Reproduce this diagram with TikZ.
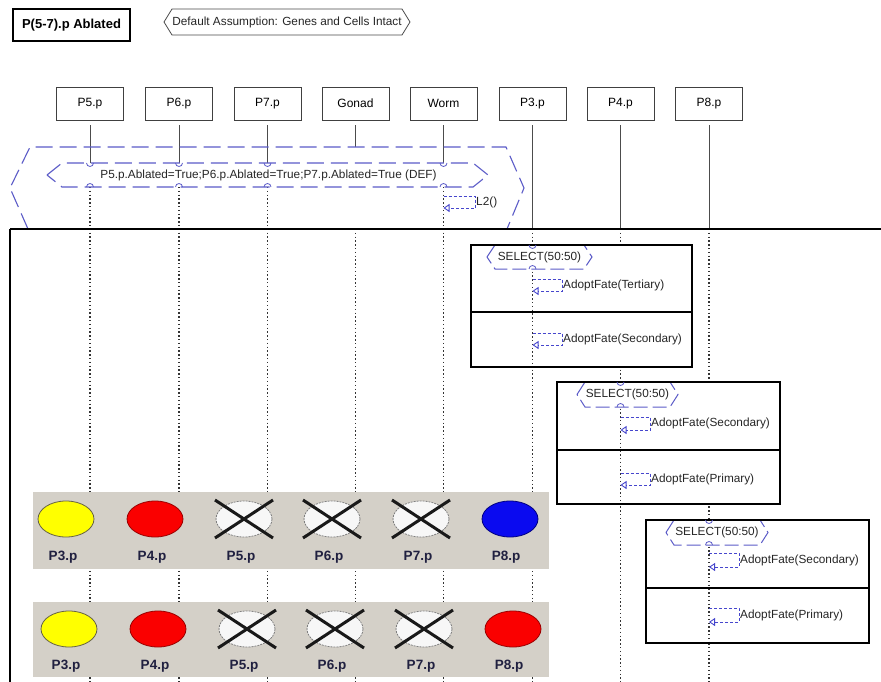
\documentclass[tikz,border=0pt]{standalone}
\usepackage{fontspec}
\setmainfont{Liberation Sans}
\usetikzlibrary{arrows.meta,shapes.geometric}

\definecolor{hexblue}{RGB}{92,92,200}
\definecolor{msgblue}{RGB}{70,70,205}
\definecolor{bandgray}{RGB}{212,208,200}
\definecolor{labnavy}{RGB}{32,32,64}
\definecolor{cellyellow}{RGB}{255,255,0}
\definecolor{cellred}{RGB}{250,0,0}
\definecolor{cellblue}{RGB}{10,10,240}

% hexagon outline: left x, right x, top y, bottom y, pointer depth
\newcommand{\hexagonat}[5]{(#1,{(#3+#4)/2}) -- ({#1+#5},#3) -- ({#2-#5},#3) -- (#2,{(#3+#4)/2}) -- ({#2-#5},#4) -- ({#1+#5},#4) -- cycle}

\begin{document}
\begin{tikzpicture}[x=1pt,y=-1pt,
  txt/.style={font=\fontsize{11.8}{13}\selectfont, inner sep=0pt, text=black!85},
  head/.style={draw=black!75, line width=0.9pt, minimum width=67pt, minimum height=33pt,
    inner sep=0pt, font=\fontsize{12}{13}\selectfont},
  solidlife/.style={draw=black!70, line width=1pt},
  dotlife/.style={draw=black!80, line width=1.4pt, dash pattern=on 1.4pt off 2.4pt},
  hexdash/.style={draw=hexblue, line width=1.1pt, dash pattern=on 17pt off 7pt},
  selhex/.style={draw=hexblue, line width=1pt, dash pattern=on 14pt off 5pt, fill=white},
  frame/.style={draw=black, line width=2pt},
  msg/.style={draw=msgblue, line width=0.9pt, dash pattern=on 3pt off 2pt,
    -{Triangle[open, length=6pt, width=8pt]}},
  lifemark/.style={draw=hexblue, line width=0.8pt},
  band/.style={fill=bandgray, draw=none},
  cell/.style={ellipse, minimum width=56pt, minimum height=36pt, inner sep=0pt, line width=0.8pt},
  deadcell/.style={cell, fill=black!3, draw=black!50, dash pattern=on 2pt off 1pt},
  cross/.style={draw=black!90, line width=3pt},
  lab/.style={font=\bfseries\fontsize{13.5}{15}\selectfont, text=labnavy, inner sep=0pt}]

\useasboundingbox (0,0) rectangle (881,682);
\fill[white] (0,0) rectangle (881,682);

% title and default assumption
\node[draw=black, line width=2.5pt, minimum width=117pt, minimum height=32pt, inner sep=0pt,
  font=\bfseries\fontsize{13}{14}\selectfont] (title) at (71.5,25) {P(5-7).p Ablated};
\draw[draw=black!70, line width=0.8pt, fill=white] \hexagonat{164}{410}{9}{35}{8};
\node[txt] (assume) at (287,22) {Default Assumption: Genes and Cells Intact};

% lifeline heads
\node[head] (p5) at (90,103.5) {P5.p};
\node[head] (p6) at (179,103.5) {P6.p};
\node[head] (p7) at (267.5,103.5) {P7.p};
\node[head] (gonad) at (355.5,103.5) {Gonad};
\node[head] (worm) at (443.5,103.5) {Worm};
\node[head] (p3) at (532.5,103.5) {P3.p};
\node[head] (p4) at (620.5,103.5) {P4.p};
\node[head] (p8) at (709,103.5) {P8.p};

% lifelines
\foreach \n in {p5,p6,p7,worm}{
  \draw[solidlife] ([yshift=-5pt]\n.south) -- (\n.south |- 0,163);
  \draw[dotlife] (\n.south |- 0,187) -- (\n.south |- 0,682);
}
\draw[solidlife] ([yshift=-5pt]gonad.south) -- (gonad.south |- 0,147);
\draw[dotlife] (gonad.south |- 0,229) -- (gonad.south |- 0,682);
\foreach \n in {p3,p4,p8}{
  \draw[solidlife] ([yshift=-5pt]\n.south) -- (\n.south |- 0,229);
  \draw[dotlife] (\n.south |- 0,229) -- (\n.south |- 0,682);
}

% outer and inner assumption hexagons
\draw[hexdash] (28,229) -- (10,188) -- (30,147) -- (506,147) -- (524,188) -- (507,229);
\draw[hexdash] \hexagonat{47}{488}{163}{187}{15};
\node[txt] (ablated) at (268.5,175) {P5.p.Ablated=True;P6.p.Ablated=True;P7.p.Ablated=True (DEF)};
\foreach \n in {p5,p6,p7,worm}{
  \draw[lifemark] ([xshift=-3.5pt]\n.south |- 0,163) arc[start angle=180, end angle=0, radius=3.5];
  \draw[lifemark] ([xshift=-3.5pt]\n.south |- 0,187) arc[start angle=180, end angle=360, radius=3.5];
}

% worm self message
\draw[msg] (worm.south |- 0,196) -| (475,208) -- (worm.south |- 0,208);
\node[txt, anchor=west] (l2) at (476,202) {L2()};

% main frame
\draw[frame] (10,229) -- (881,229);
\draw[frame] (10,229) -- (10,682);

% fate result bands
\fill[band] (33,492) rectangle (549,569);
\fill[band] (33,602) rectangle (549,677);

\node[cell, fill=cellyellow, draw=black!70!yellow] (a3) at (66,519) {};
\node[cell, fill=cellred, draw=red!60!black] (a4) at (155,519) {};
\node[deadcell] (a5) at (244,519) {};
\node[deadcell] (a6) at (332,519) {};
\node[deadcell] (a7) at (421,519) {};
\node[cell, fill=cellblue, draw=blue!50!black] (a8) at (510,519) {};
\foreach \c in {a5,a6,a7}{
  \draw[cross] ([shift={(-29,19)}]\c.center) -- ([shift={(29,-19)}]\c.center);
  \draw[cross] ([shift={(-29,-19)}]\c.center) -- ([shift={(29,19)}]\c.center);
}
\node[lab] (a3l) at (63,557) {P3.p};
\node[lab] (a4l) at (152,557) {P4.p};
\node[lab] (a5l) at (241,557) {P5.p};
\node[lab] (a6l) at (329,557) {P6.p};
\node[lab] (a7l) at (418,557) {P7.p};
\node[lab] (a8l) at (506,557) {P8.p};

\node[cell, fill=cellyellow, draw=black!70!yellow] (b3) at (69,629) {};
\node[cell, fill=cellred, draw=red!60!black] (b4) at (158,629) {};
\node[deadcell] (b5) at (247,629) {};
\node[deadcell] (b6) at (335,629) {};
\node[deadcell] (b7) at (424,629) {};
\node[cell, fill=cellred, draw=red!60!black] (b8) at (513,629) {};
\foreach \c in {b5,b6,b7}{
  \draw[cross] ([shift={(-29,19)}]\c.center) -- ([shift={(29,-19)}]\c.center);
  \draw[cross] ([shift={(-29,-19)}]\c.center) -- ([shift={(29,19)}]\c.center);
}
\node[lab] (b3l) at (66,666) {P3.p};
\node[lab] (b4l) at (155,666) {P4.p};
\node[lab] (b5l) at (244,666) {P5.p};
\node[lab] (b6l) at (332,666) {P6.p};
\node[lab] (b7l) at (421,666) {P7.p};
\node[lab] (b8l) at (509,666) {P8.p};

% SELECT fragment on P3
\fill[white] (471,245) rectangle (692,367);
\draw[dotlife] (p3.south |- 0,245) -- (p3.south |- 0,367);
\draw[selhex] \hexagonat{487}{592}{245}{269}{8};
\node[txt] (s3) at (539.5,257) {SELECT(50:50)};
\draw[frame] (471,245) rectangle (692,367);
\draw[frame] (471,312) -- (692,312);
\draw[lifemark] ([xshift=-3.5pt]p3.south |- 0,245) arc[start angle=180, end angle=0, radius=3.5];
\draw[lifemark] ([xshift=-3.5pt]p3.south |- 0,269) arc[start angle=180, end angle=360, radius=3.5];
\draw[msg] (p3.south |- 0,279) -| (562,291) -- (p3.south |- 0,291);
\node[txt, anchor=west] (m31) at (563,285) {AdoptFate(Tertiary)};
\draw[msg] (p3.south |- 0,333) -| (562,345) -- (p3.south |- 0,345);
\node[txt, anchor=west] (m32) at (563,339) {AdoptFate(Secondary)};

% SELECT fragment on P4
\fill[white] (557,382) rectangle (780,504);
\draw[dotlife] (p4.south |- 0,382) -- (p4.south |- 0,504);
\draw[selhex] \hexagonat{577}{678}{382}{407}{8};
\node[txt] (s4) at (627.5,394.5) {SELECT(50:50)};
\draw[frame] (557,382) rectangle (780,504);
\draw[frame] (557,450) -- (780,450);
\draw[lifemark] ([xshift=-3.5pt]p4.south |- 0,382) arc[start angle=180, end angle=0, radius=3.5];
\draw[lifemark] ([xshift=-3.5pt]p4.south |- 0,407) arc[start angle=180, end angle=360, radius=3.5];
\draw[msg] (p4.south |- 0,417) -| (650,430) -- (p4.south |- 0,430);
\node[txt, anchor=west] (m41) at (651,423.5) {AdoptFate(Secondary)};
\draw[msg] (p4.south |- 0,473) -| (650,485) -- (p4.south |- 0,485);
\node[txt, anchor=west] (m42) at (651,479) {AdoptFate(Primary)};

% SELECT fragment on P8
\fill[white] (646,520) rectangle (869,643);
\draw[dotlife] (p8.south |- 0,520) -- (p8.south |- 0,643);
\draw[selhex] \hexagonat{666}{768}{520}{545}{8};
\node[txt] (s8) at (717,532.5) {SELECT(50:50)};
\draw[frame] (646,520) rectangle (869,643);
\draw[frame] (646,588) -- (869,588);
\draw[lifemark] ([xshift=-3.5pt]p8.south |- 0,520) arc[start angle=180, end angle=0, radius=3.5];
\draw[lifemark] ([xshift=-3.5pt]p8.south |- 0,545) arc[start angle=180, end angle=360, radius=3.5];
\draw[msg] (p8.south |- 0,553) -| (739,567) -- (p8.south |- 0,567);
\node[txt, anchor=west] (m81) at (740,560) {AdoptFate(Secondary)};
\draw[msg] (p8.south |- 0,608) -| (739,622) -- (p8.south |- 0,622);
\node[txt, anchor=west] (m82) at (740,615) {AdoptFate(Primary)};

\end{tikzpicture}
\end{document}
